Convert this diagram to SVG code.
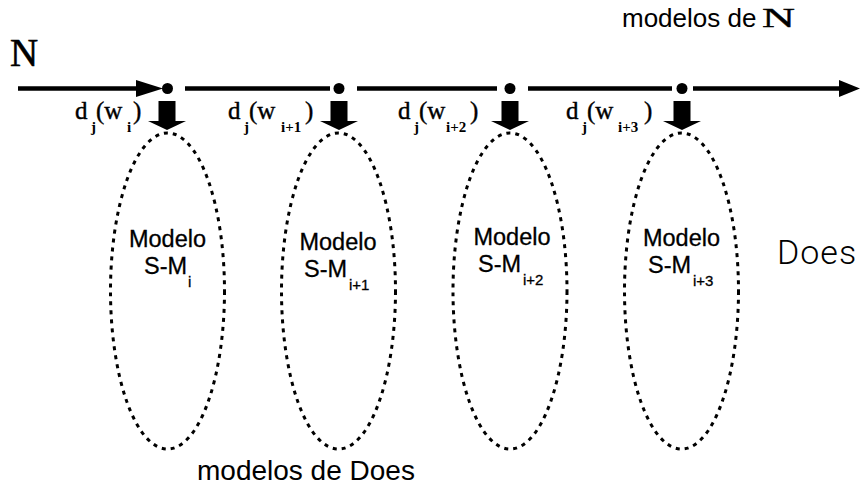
<svg xmlns="http://www.w3.org/2000/svg" width="861" height="489" viewBox="0 0 861 489">
  <style>
    .axis { stroke: #000; stroke-width: 4.5; fill: none; }
    .head { fill: #000; }
    .dot { fill: #000; }
    .oval { fill: none; stroke: #000; stroke-width: 3; stroke-dasharray: 4 5; }
    .serif { font-family: "Liberation Serif", "Times New Roman", serif; fill: #000; }
    .sans { font-family: "Liberation Sans", Arial, sans-serif; fill: #000; }
    .lbl { font-size: 25px; stroke: #000; stroke-width: 0.4; }
    .sub { font-size: 15px; font-weight: bold; stroke-width: 0; }
    .mod { font-size: 23.5px; stroke: #000; stroke-width: 0.3; }
    .msub { font-size: 15px; }
  </style>
  <defs>
    <!-- thick downward block arrow, centred on x=0 -->
    <path id="drop" d="M -8.5 101 L 8.5 101 L 8.5 121 L 19 121 L 0 130 L -19 121 L -8.5 121 Z"/>
  </defs>
  <rect x="0" y="0" width="861" height="489" fill="#fff"/>

  <!-- axis titles -->
  <text class="serif" x="10" y="66" font-size="39" stroke="#000" stroke-width="0.6">N</text>
  <g id="title-n">
    <text class="sans" x="622" y="27" font-size="26">modelos de</text>
    <text class="serif" x="762" y="27" font-size="28" textLength="33" lengthAdjust="spacingAndGlyphs" stroke="#000" stroke-width="0.4">N</text>
  </g>
  <text id="title-does" x="777" y="264" font-size="34" font-family="Roboto, 'Liberation Sans', sans-serif" font-weight="300" fill="#000" letter-spacing="1">Does</text>
  <text id="title-models" class="sans" x="197" y="480" font-size="28">modelos de Does</text>

  <!-- connectors: the N axis and the drops into each model -->
  <g id="connectors">
    <line class="axis" x1="18" y1="88.5" x2="140" y2="88.5"/>
    <polygon class="head" points="136,80 163,88.5 136,97"/>
    <line class="axis" x1="185" y1="88.5" x2="330" y2="88.5"/>
    <line class="axis" x1="357" y1="88.5" x2="497" y2="88.5"/>
    <line class="axis" x1="528" y1="88.5" x2="672" y2="88.5"/>
    <line class="axis" x1="693" y1="88.5" x2="845" y2="88.5"/>
    <polygon class="head" points="839,80 860,88.5 839,97"/>
    <use href="#drop" x="167"/>
    <use href="#drop" x="339"/>
    <use href="#drop" x="510"/>
    <use href="#drop" x="682"/>
  </g>

  <!-- sample points on the axis -->
  <g id="p1"><circle class="dot" cx="167.5" cy="88.5" r="5.5"/>
    <text class="serif lbl" y="119"><tspan x="75">d</tspan><tspan class="sub" x="91" y="132">j</tspan><tspan x="96" y="119">(w</tspan><tspan class="sub" x="127" y="132">i</tspan><tspan x="133" y="119">)</tspan></text>
  </g>
  <g id="p2"><circle class="dot" cx="339" cy="88.5" r="5.5"/>
    <text class="serif lbl" y="119"><tspan x="228">d</tspan><tspan class="sub" x="244" y="132">j</tspan><tspan x="249" y="119">(w</tspan><tspan class="sub" x="281" y="132">i+1</tspan><tspan x="305" y="119">)</tspan></text>
  </g>
  <g id="p3"><circle class="dot" cx="510" cy="88.5" r="5.5"/>
    <text class="serif lbl" y="119"><tspan x="398">d</tspan><tspan class="sub" x="414" y="132">j</tspan><tspan x="419" y="119">(w</tspan><tspan class="sub" x="446" y="132">i+2</tspan><tspan x="470" y="119">)</tspan></text>
  </g>
  <g id="p4"><circle class="dot" cx="682" cy="88.5" r="5.5"/>
    <text class="serif lbl" y="119"><tspan x="566">d</tspan><tspan class="sub" x="582" y="132">j</tspan><tspan x="587" y="119">(w</tspan><tspan class="sub" x="618" y="132">i+3</tspan><tspan x="644" y="119">)</tspan></text>
  </g>

  <!-- model ovals -->
  <g id="m1">
    <ellipse class="oval" cx="167.5" cy="291" rx="57" ry="158"/>
    <text class="sans mod" x="167.5" y="247" text-anchor="middle">Modelo</text>
    <text class="sans mod" x="144" y="274">S-M<tspan class="msub" x="188" y="287">i</tspan></text>
  </g>
  <g id="m2">
    <ellipse class="oval" cx="338.5" cy="291" rx="57" ry="158"/>
    <text class="sans mod" x="338" y="250" text-anchor="middle">Modelo</text>
    <text class="sans mod" x="304" y="277">S-M<tspan class="msub" x="349" y="290">i+1</tspan></text>
  </g>
  <g id="m3">
    <ellipse class="oval" cx="510" cy="291" rx="57" ry="158"/>
    <text class="sans mod" x="512" y="245" text-anchor="middle">Modelo</text>
    <text class="sans mod" x="478" y="272">S-M<tspan class="msub" x="523" y="285">i+2</tspan></text>
  </g>
  <g id="m4">
    <ellipse class="oval" cx="681.5" cy="291" rx="57" ry="158"/>
    <text class="sans mod" x="681.5" y="246" text-anchor="middle">Modelo</text>
    <text class="sans mod" x="648" y="273">S-M<tspan class="msub" x="693" y="286">i+3</tspan></text>
  </g>
</svg>
